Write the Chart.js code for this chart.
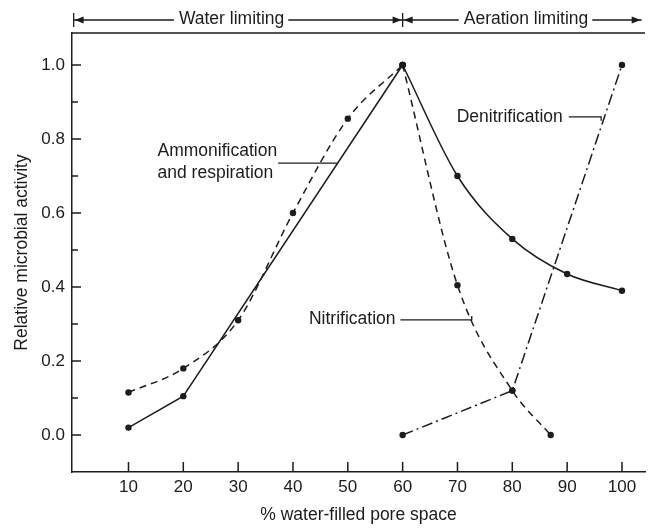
<!DOCTYPE html>
<html>
<head>
<meta charset="utf-8">
<script src="https://cdn.jsdelivr.net/npm/chart.js@4.4.1/dist/chart.umd.min.js"></script>
<style>
  html, body { margin: 0; padding: 0; background: #fff; }
</style>
</head>
<body>
<canvas id="activityChart" width="649" height="529"></canvas>
<script>
// values
const ammonRiseX = [10, 20, 60];
const ammonRiseY = [0.02, 0.105, 1.0];
const ammonFallX = [60, 70, 80, 90, 100];
const ammonFallY = [1.0, 0.70, 0.53, 0.435, 0.39];
const nitrRiseX = [10, 20, 30, 40, 50, 60];
const nitrRiseY = [0.115, 0.18, 0.31, 0.60, 0.855, 1.0];
const nitrFallX = [60, 70, 80, 87];
const nitrFallY = [1.0, 0.405, 0.12, 0.0];
const denitX = [60, 80, 100];
const denitY = [0.0, 0.12, 1.0];

const xTicks = [10, 20, 30, 40, 50, 60, 70, 80, 90, 100];
const yTicks = [0.0, 0.1, 0.2, 0.3, 0.4, 0.5, 0.6, 0.7, 0.8, 0.9, 1.0];
const yTickLabels = ["0.0", "", "0.2", "", "0.4", "", "0.6", "", "0.8", "", "1.0"];

const FONT = "'Liberation Sans', Arial, Helvetica, sans-serif";
const INK = "#1c1c1c";

function toPoints(xs, ys) {
  return xs.map((x, i) => ({ x: x, y: ys[i] }));
}

function curve(label, xs, ys, dash, smooth) {
  return {
    label: label,
    data: toPoints(xs, ys),
    borderColor: INK,
    backgroundColor: INK,
    borderWidth: 1.5,
    borderDash: dash,
    tension: 0,
    cubicInterpolationMode: smooth ? "monotone" : "default",
    pointRadius: 3.2,
    pointBackgroundColor: INK,
    pointBorderWidth: 0,
  };
}

// frame top edge + ticks pointing into the plot
const insideTicks = {
  id: "insideTicks",
  afterDraw(chart) {
    const { ctx, chartArea: a, scales: { x, y } } = chart;
    ctx.save();
    ctx.strokeStyle = INK;
    ctx.lineWidth = 1.5;
    ctx.beginPath();
    ctx.moveTo(a.left, a.top);
    ctx.lineTo(a.right, a.top);
    x.ticks.forEach((t) => {
      const px = x.getPixelForValue(t.value);
      ctx.moveTo(px, a.bottom);
      ctx.lineTo(px, a.bottom - 10);
    });
    y.ticks.forEach((t, i) => {
      const py = y.getPixelForValue(t.value);
      ctx.moveTo(a.left, py);
      ctx.lineTo(a.left + (i % 2 ? 6 : 9), py);
    });
    ctx.stroke();
    ctx.restore();
  },
};

// text labels with leader lines, positioned in data units
const callouts = [
  { lines: ["Ammonification", "and respiration"], tx: 15.3, ty: [0.768, 0.708], align: "left",
    from: 37.3, to: 48.1, ly: 0.735, hook: 0 },
  { lines: ["Nitrification"], tx: 58.7, ty: [0.314], align: "right",
    from: 59.6, to: 72.6, ly: 0.311, hook: -4 },
  { lines: ["Denitrification"], tx: 89.2, ty: [0.86], align: "right",
    from: 90.3, to: 96.2, ly: 0.86, hook: 4 },
];

const calloutPlugin = {
  id: "callouts",
  afterDraw(chart) {
    const { ctx, scales: { x, y } } = chart;
    ctx.save();
    ctx.fillStyle = INK;
    ctx.strokeStyle = INK;
    ctx.lineWidth = 1.3;
    ctx.font = "17.5px " + FONT;
    ctx.textBaseline = "middle";
    callouts.forEach((c) => {
      ctx.textAlign = c.align;
      c.lines.forEach((line, i) => {
        ctx.fillText(line, x.getPixelForValue(c.tx), y.getPixelForValue(c.ty[i]));
      });
      const ly = y.getPixelForValue(c.ly);
      const x1 = x.getPixelForValue(c.from);
      const x2 = x.getPixelForValue(c.to);
      ctx.beginPath();
      ctx.moveTo(x1, ly);
      ctx.lineTo(x2, ly);
      if (c.hook) ctx.lineTo(x2, ly + c.hook);
      ctx.stroke();
    });
    ctx.restore();
  },
};

// "Water limiting" / "Aeration limiting" range arrows above the frame
const rangeBand = {
  id: "rangeBand",
  afterDraw(chart) {
    const { ctx, chartArea: a, scales: { x } } = chart;
    const by = a.top - 13;
    const ranges = [
      { text: "Water limiting", from: 0, to: 60, mid: 28.8 },
      { text: "Aeration limiting", from: 60, to: 103.6, mid: 82.5 },
    ];
    ctx.save();
    ctx.fillStyle = INK;
    ctx.strokeStyle = INK;
    ctx.lineWidth = 1.3;
    ctx.font = "17.5px " + FONT;
    ctx.textAlign = "center";
    ctx.textBaseline = "middle";

    function head(tipX, dir) {
      ctx.beginPath();
      ctx.moveTo(tipX, by);
      ctx.lineTo(tipX - dir * 9, by - 3.5);
      ctx.lineTo(tipX - dir * 9, by + 3.5);
      ctx.closePath();
      ctx.fill();
    }

    ranges.forEach((r) => {
      const x1 = x.getPixelForValue(r.from);
      const x2 = x.getPixelForValue(r.to);
      const xm = x.getPixelForValue(r.mid);
      const w = ctx.measureText(r.text).width;
      ctx.fillText(r.text, xm, by - 1);
      ctx.beginPath();
      ctx.moveTo(x1, by);
      ctx.lineTo(xm - w / 2 - 5, by);
      ctx.moveTo(xm + w / 2 + 4, by);
      ctx.lineTo(x2, by);
      ctx.stroke();
      head(x1 + 1, -1);
      head(x2 - 1, 1);
    });

    const bars = [0, 60];
    ctx.beginPath();
    bars.forEach((v) => {
      const px = x.getPixelForValue(v);
      ctx.moveTo(px, by - 7);
      ctx.lineTo(px, by + 7);
    });
    ctx.stroke();
    ctx.restore();
  },
};

new Chart(document.getElementById("activityChart"), {
  type: "line",
  data: {
    datasets: [
      curve("Ammonification and respiration", ammonRiseX, ammonRiseY, [], false),
      curve("Ammonification and respiration", ammonFallX, ammonFallY, [], true),
      curve("Nitrification", nitrRiseX, nitrRiseY, [7, 5], true),
      curve("Nitrification", nitrFallX, nitrFallY, [7, 5], true),
      curve("Denitrification", denitX, denitY, [11, 4, 2, 4], false),
    ],
  },
  options: {
    responsive: false,
    animation: false,
    layout: { padding: { top: 33, left: 0, right: 0, bottom: 0 } },
    plugins: {
      legend: { display: false },
      tooltip: { enabled: false },
    },
    scales: {
      x: {
        type: "linear",
        min: -0.3,
        max: 104.2,
        afterBuildTicks: (s) => { s.ticks = xTicks.map((v) => ({ value: v })); },
        afterFit: (s) => { s.height = 57; },
        ticks: {
          color: INK,
          font: { family: FONT, size: 17 },
          padding: 5,
          autoSkip: false,
          maxRotation: 0,
        },
        grid: { display: false, drawTicks: false },
        border: { display: true, color: INK, width: 1.5 },
        title: {
          display: true,
          text: "% water-filled pore space",
          color: INK,
          font: { family: FONT, size: 17.5 },
          padding: { top: 0, bottom: 3.5 },
        },
      },
      y: {
        min: -0.1,
        max: 1.0865,
        afterBuildTicks: (s) => { s.ticks = yTicks.map((v) => ({ value: v })); },
        afterFit: (s) => { s.width = 72; },
        ticks: {
          color: INK,
          font: { family: FONT, size: 17 },
          padding: 7,
          callback: (val, i) => yTickLabels[i],
        },
        grid: { display: false, drawTicks: false },
        border: { display: true, color: INK, width: 1.5 },
        title: {
          display: true,
          text: "Relative microbial activity",
          color: INK,
          font: { family: FONT, size: 17.5 },
          padding: { top: 12, bottom: 0 },
        },
      },
    },
  },
  plugins: [insideTicks, calloutPlugin, rangeBand],
});
</script>
</body>
</html>
